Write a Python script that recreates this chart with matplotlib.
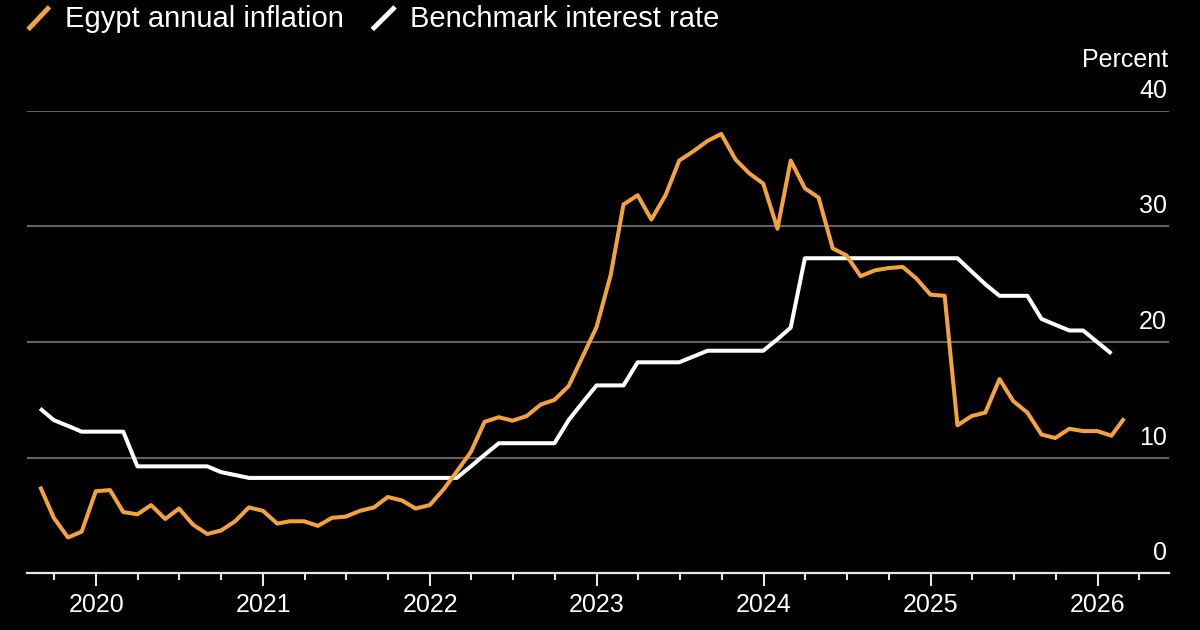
import pandas as pd
import matplotlib
matplotlib.use("Agg")
import matplotlib.pyplot as plt
import matplotlib.dates as mdates
from matplotlib.lines import Line2D
from matplotlib.transforms import offset_copy

plt.rcParams['font.family'] = ['Liberation Sans', 'DejaVu Sans']

# Monthly values, Aug 2019 onwards (plotted at month end)
inflation = [
    7.5, 4.8, 3.1, 3.6, 7.1,                                              # 2019
    7.2, 5.3, 5.1, 5.9, 4.7, 5.6, 4.2, 3.4, 3.7, 4.5, 5.7, 5.4,            # 2020
    4.3, 4.5, 4.5, 4.1, 4.8, 4.9, 5.4, 5.7, 6.6, 6.3, 5.6, 5.9,            # 2021
    7.3, 8.8, 10.5, 13.1, 13.5, 13.2, 13.6, 14.6, 15.0, 16.2, 18.7, 21.3,  # 2022
    25.8, 31.9, 32.7, 30.6, 32.7, 35.7, 36.5, 37.4, 38.0, 35.8, 34.6, 33.7,  # 2023
    29.8, 35.7, 33.3, 32.5, 28.1, 27.5, 25.7, 26.2, 26.4, 26.5, 25.5, 24.1,  # 2024
    24.0, 12.8, 13.6, 13.9, 16.8, 14.9, 13.9, 12.0, 11.7, 12.5, 12.3, 12.3,  # 2025
    11.9, 13.4,                                                           # 2026
]
rate = [
    14.25, 13.25, 12.75, 12.25, 12.25,                                                # 2019
    12.25, 12.25, 9.25, 9.25, 9.25, 9.25, 9.25, 9.25, 8.75, 8.5, 8.25, 8.25,          # 2020
    8.25, 8.25, 8.25, 8.25, 8.25, 8.25, 8.25, 8.25, 8.25, 8.25, 8.25, 8.25,           # 2021
    8.25, 8.25, 9.25, 10.25, 11.25, 11.25, 11.25, 11.25, 11.25, 13.25, 14.75, 16.25,  # 2022
    16.25, 16.25, 18.25, 18.25, 18.25, 18.25, 18.75, 19.25, 19.25, 19.25, 19.25, 19.25,  # 2023
    20.25, 21.25, 27.25, 27.25, 27.25, 27.25, 27.25, 27.25, 27.25, 27.25, 27.25, 27.25,  # 2024
    27.25, 27.25, 26.1, 25.0, 24.0, 24.0, 24.0, 22.0, 21.5, 21.0, 21.0, 20.0,         # 2025
    19.0,                                                                             # 2026
]
yticks = [0, 10, 20, 30, 40]

inflation_dates = pd.date_range('2019-08-31', periods=len(inflation), freq='ME')
rate_dates = pd.date_range('2019-08-31', periods=len(rate), freq='ME')

orange = '#f4a23b'

fig = plt.figure(figsize=(12, 6.3), dpi=100, facecolor='black')
ax = fig.add_axes([0.02275, 0.09, 0.9514, 0.7341])
ax.set_facecolor('black')

ax.plot(rate_dates, rate, color='white', lw=2.9, solid_capstyle='butt', zorder=3)
ax.plot(inflation_dates, inflation, color=orange, lw=2.9, solid_capstyle='butt', zorder=4)

ax.set_xlim(pd.Timestamp('2019-08-03'), pd.Timestamp('2026-06-06'))
ax.set_ylim(0, 40)

# y grid + labels sitting above the lines on the right
ax.set_yticks(yticks)
ax.tick_params(axis='y', length=0, labelleft=False, labelright=False)
ax.grid(axis='y', color='#626262', lw=1.5)
lab_tr = offset_copy(ax.get_yaxis_transform(), fig=fig, x=-2, y=13, units='dots')
for v in yticks:
    ax.text(1.0, v, str(v), transform=lab_tr, ha='right', va='baseline',
            color='white', fontsize=18)
pct_tr = offset_copy(ax.get_yaxis_transform(), fig=fig, x=-1, y=44, units='dots')
ax.text(1.0, 40, 'Percent', transform=pct_tr, ha='right', va='baseline',
        color='white', fontsize=18)

# x axis
for s in ['top', 'left', 'right']:
    ax.spines[s].set_visible(False)
ax.spines['bottom'].set_color('#e6e6e6')
ax.spines['bottom'].set_linewidth(1.6)
ax.spines['bottom'].set_zorder(5)
ax.xaxis.set_major_locator(mdates.YearLocator())
ax.xaxis.set_major_formatter(mdates.DateFormatter('%Y'))
ax.xaxis.set_minor_locator(mdates.MonthLocator(bymonth=[1, 4, 7, 10]))
ax.tick_params(axis='x', which='major', length=9.5, width=1.5, color='#e6e6e6',
               labelcolor='white', labelsize=18, pad=5)
ax.tick_params(axis='x', which='minor', length=5, width=1.5, color='#e6e6e6')

# legend
fig.add_artist(Line2D([29.7 / 1200, 47.8 / 1200], [1 - 27.8 / 630, 1 - 8.6 / 630],
                      color=orange, lw=3.5, transform=fig.transFigure))
fig.text(64.6 / 1200, 1 - 27 / 630, 'Egypt annual inflation', color='white',
         fontsize=21, va='baseline')
fig.add_artist(Line2D([374 / 1200, 393.3 / 1200], [1 - 27.8 / 630, 1 - 8.6 / 630],
                      color='white', lw=3.5, transform=fig.transFigure))
fig.text(410.5 / 1200, 1 - 27 / 630, 'Benchmark interest rate', color='white',
         fontsize=21, va='baseline')

fig.savefig('out.png', dpi=100, facecolor='black')
